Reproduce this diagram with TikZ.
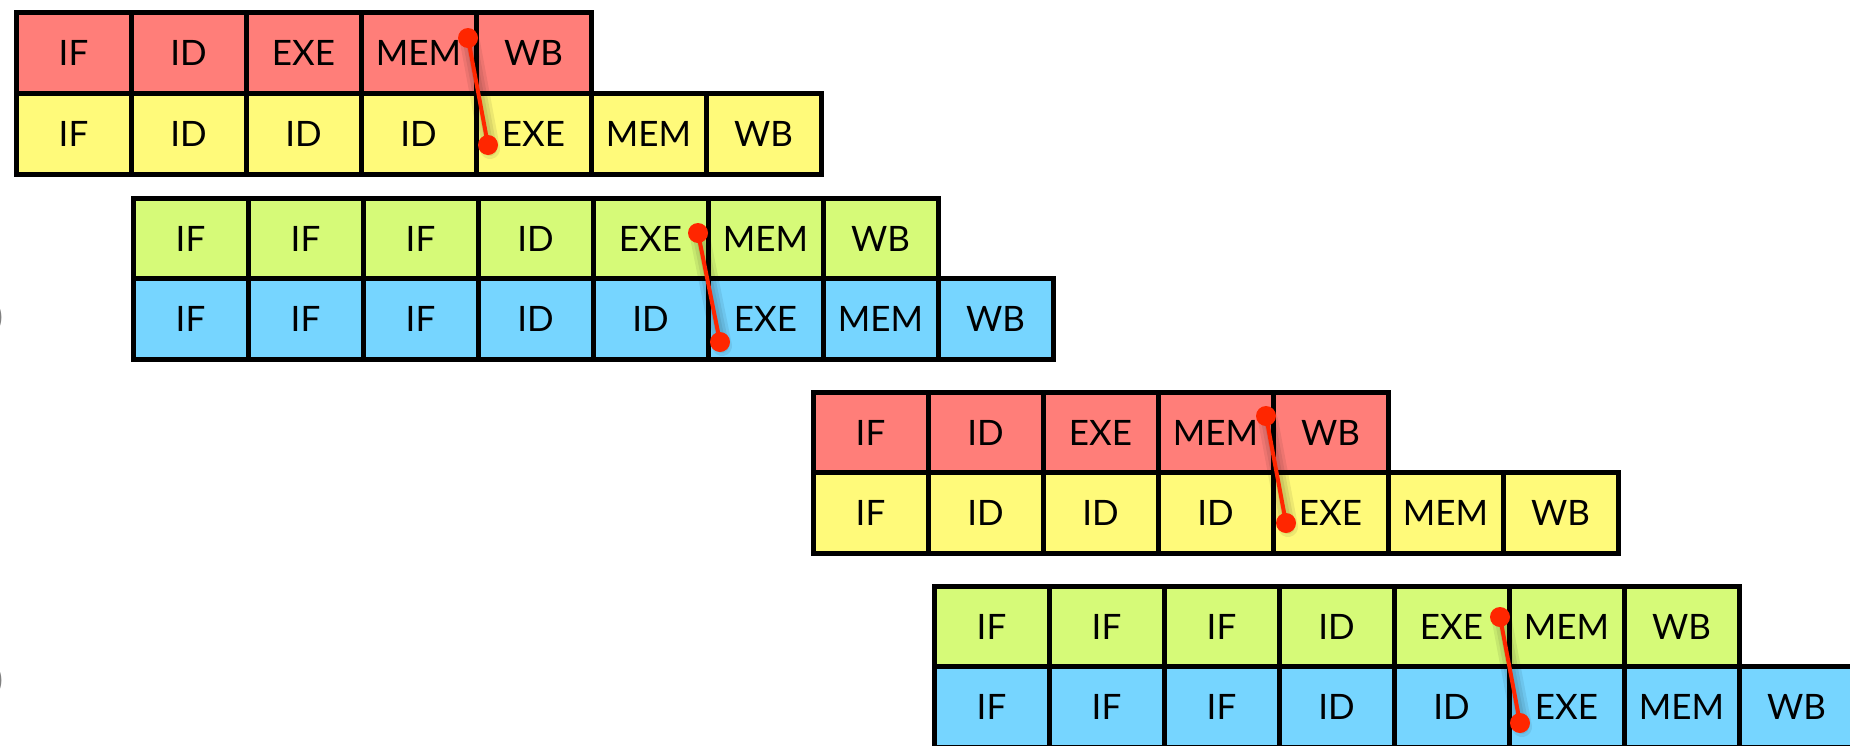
\documentclass[tikz,border=0pt]{standalone}
\usepackage{fontspec}
\setmainfont{Lato}
\usetikzlibrary{calc}

\definecolor{stRed}{RGB}{255,126,121}
\definecolor{stYellow}{RGB}{255,250,122}
\definecolor{stGreen}{RGB}{214,250,120}
\definecolor{stBlue}{RGB}{118,213,255}
\definecolor{depRed}{RGB}{255,38,0}

\tikzset{
  cell/.style={draw=black, line width=5pt, minimum width=115pt, minimum height=81pt,
    inner sep=0pt, outer sep=0pt, anchor=north west,
    font=\fontsize{35}{40}\selectfont, text=black},
  rowR/.style={cell, fill=stRed},
  rowY/.style={cell, fill=stYellow},
  rowG/.style={cell, fill=stGreen},
  rowB/.style={cell, fill=stBlue},
  depline/.style={draw=depRed, line width=4pt},
  depdot/.style={fill=depRed},
  depshade/.style={draw=black, line cap=round, opacity=0.07},
  edgefrag/.style={text=gray, font=\fontsize{31}{36}\selectfont, inner sep=0pt}
}

% one row of pipeline stages: #1 style, #2 name prefix, #3 x, #4 y, #5 list of stages
\newcommand{\stagerow}[5]{%
  \foreach \lbl [count=\i from 0] in {#5} {
    \node[#1] (#2\i) at ({#3+115*\i}, #4) {\lbl};
  }%
}

% a forwarding link between two named points, with soft shadow
\newcommand{\forwardlink}[2]{%
  \foreach \w in {8,14,20} {
    \draw[depshade, line width=\w pt] ($(#1)+(2,4)$) -- ($(#2)+(2,4)$);
  }
  \draw[depline] (#1) -- (#2);
  \fill[depdot] (#1) circle (10);
  \fill[depdot] (#2) circle (10);
}

\begin{document}
\begin{tikzpicture}[x=1pt, y=-1pt]
  \clip (0,0) rectangle (1850,745);
  \fill[white] (0,0) rectangle (1850,745);

  % clipped text fragments at the left margin
  \node[edgefrag, anchor=east] (fragA) at (3,318) {)};
  \node[edgefrag, anchor=east] (fragB) at (3,681) {)};

  % ---- group 1 ----
  \stagerow{rowR}{pa}{16}{12}{IF,ID,EXE,MEM,WB}
  \stagerow{rowY}{pb}{16}{93}{IF,ID,ID,ID,EXE,MEM,WB}
  \coordinate (pt) at ($(pa3.north east)+(-8,26)$);
  \coordinate (pbm) at ($(pb4.north west)+(12,52)$);
  \forwardlink{pt}{pbm}

  % ---- group 2 ----
  \stagerow{rowG}{qa}{133}{198}{IF,IF,IF,ID,EXE,MEM,WB}
  \stagerow{rowB}{qb}{133}{278}{IF,IF,IF,ID,ID,EXE,MEM,WB}
  \coordinate (qt) at ($(qa4.north east)+(-10,35)$);
  \coordinate (qbm) at ($(qb5.north west)+(12,64)$);
  \forwardlink{qt}{qbm}

  % ---- group 3 ----
  \stagerow{rowR}{ra}{813}{392}{IF,ID,EXE,MEM,WB}
  \stagerow{rowY}{rb}{813}{472}{IF,ID,ID,ID,EXE,MEM,WB}
  \coordinate (rt) at ($(ra3.north east)+(-7,24)$);
  \coordinate (rbm) at ($(rb4.north west)+(13,51)$);
  \forwardlink{rt}{rbm}

  % ---- group 4 ----
  \stagerow{rowG}{sa}{934}{586}{IF,IF,IF,ID,EXE,MEM,WB}
  \stagerow{rowB}{sb}{934}{666}{IF,IF,IF,ID,ID,EXE,MEM,WB}
  \coordinate (st) at ($(sa4.north east)+(-9,31)$);
  \coordinate (sbm) at ($(sb5.north west)+(11,57)$);
  \forwardlink{st}{sbm}
\end{tikzpicture}
\end{document}
